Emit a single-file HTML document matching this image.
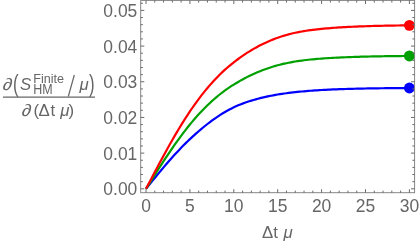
<!DOCTYPE html>
<html><head><meta charset="utf-8"><style>
html,body{margin:0;padding:0;background:#fff;}
body{width:420px;height:243px;overflow:hidden;}
svg{display:block;will-change:transform;}
text{font-family:"Liberation Sans",sans-serif;fill:#666;}
</style></head><body>
<svg width="420" height="243" viewBox="0 0 420 243">
<rect width="420" height="243" fill="#fff"/>
<polyline points="146.00,188.80 148.19,186.08 150.39,183.37 152.59,180.67 154.78,177.98 156.97,175.30 159.17,172.64 161.37,170.01 163.56,167.40 165.75,164.82 167.95,162.27 170.15,159.76 172.34,157.29 174.53,154.86 176.73,152.47 178.93,150.13 181.12,147.83 183.31,145.59 185.51,143.40 187.70,141.25 189.90,139.17 192.09,137.12 194.29,135.12 196.49,133.16 198.68,131.23 200.88,129.36 203.07,127.52 205.26,125.73 207.46,123.99 209.66,122.30 211.85,120.66 214.05,119.07 216.24,117.54 218.44,116.06 220.63,114.64 222.82,113.27 225.02,111.97 227.21,110.72 229.41,109.53 231.60,108.40 233.80,107.33 236.00,106.31 238.19,105.35 240.38,104.45 242.58,103.61 244.77,102.81 246.97,102.05 249.16,101.32 251.36,100.63 253.56,99.97 255.75,99.34 257.94,98.75 260.14,98.18 262.33,97.64 264.53,97.13 266.73,96.64 268.92,96.17 271.12,95.73 273.31,95.32 275.50,94.92 277.70,94.54 279.89,94.18 282.09,93.84 284.28,93.52 286.48,93.22 288.67,92.93 290.87,92.65 293.06,92.39 295.26,92.14 297.45,91.91 299.65,91.69 301.85,91.48 304.04,91.28 306.24,91.09 308.43,90.91 310.62,90.74 312.82,90.58 315.01,90.43 317.21,90.29 319.40,90.15 321.60,90.02 323.79,89.90 325.99,89.78 328.18,89.67 330.38,89.57 332.57,89.47 334.77,89.38 336.96,89.29 339.16,89.21 341.36,89.13 343.55,89.06 345.75,88.98 347.94,88.92 350.13,88.86 352.33,88.80 354.52,88.74 356.72,88.69 358.91,88.64 361.11,88.59 363.30,88.54 365.50,88.50 367.69,88.46 369.89,88.42 372.08,88.38 374.28,88.35 376.48,88.32 378.67,88.29 380.87,88.26 383.06,88.23 385.25,88.21 387.45,88.18 389.64,88.16 391.84,88.14 394.03,88.11 396.23,88.10 398.42,88.08 400.62,88.06 402.81,88.04 405.01,88.03 407.20,88.01 409.40,88.00" fill="none" stroke="#0000ff" stroke-width="2.2" stroke-linejoin="round"/>
<circle cx="409.40" cy="88.00" r="5.45" fill="#0000ff"/>
<polyline points="146.00,188.80 148.19,185.30 150.39,181.80 152.59,178.31 154.78,174.83 156.97,171.38 159.17,167.95 161.37,164.54 163.56,161.17 165.75,157.84 167.95,154.55 170.15,151.30 172.34,148.09 174.53,144.94 176.73,141.85 178.93,138.81 181.12,135.83 183.31,132.91 185.51,130.05 187.70,127.27 189.90,124.54 192.09,121.89 194.29,119.30 196.49,116.79 198.68,114.35 200.88,111.97 203.07,109.67 205.26,107.44 207.46,105.28 209.66,103.19 211.85,101.17 214.05,99.22 216.24,97.33 218.44,95.51 220.63,93.76 222.82,92.07 225.02,90.45 227.21,88.89 229.41,87.39 231.60,85.95 233.80,84.56 236.00,83.22 238.19,81.93 240.38,80.67 242.58,79.45 244.77,78.28 246.97,77.14 249.16,76.05 251.36,74.99 253.56,73.98 255.75,73.00 257.94,72.06 260.14,71.16 262.33,70.30 264.53,69.48 266.73,68.70 268.92,67.95 271.12,67.24 273.31,66.56 275.50,65.92 277.70,65.31 279.89,64.74 282.09,64.19 284.28,63.68 286.48,63.20 288.67,62.74 290.87,62.31 293.06,61.91 295.26,61.54 297.45,61.19 299.65,60.86 301.85,60.55 304.04,60.27 306.24,60.00 308.43,59.76 310.62,59.53 312.82,59.32 315.01,59.12 317.21,58.93 319.40,58.75 321.60,58.58 323.79,58.43 325.99,58.27 328.18,58.13 330.38,58.00 332.57,57.87 334.77,57.75 336.96,57.64 339.16,57.53 341.36,57.42 343.55,57.33 345.75,57.24 347.94,57.15 350.13,57.07 352.33,56.99 354.52,56.92 356.72,56.85 358.91,56.78 361.11,56.72 363.30,56.66 365.50,56.61 367.69,56.55 369.89,56.50 372.08,56.46 374.28,56.41 376.48,56.37 378.67,56.33 380.87,56.29 383.06,56.26 385.25,56.22 387.45,56.19 389.64,56.16 391.84,56.13 394.03,56.11 396.23,56.08 398.42,56.06 400.62,56.04 402.81,56.01 405.01,55.99 407.20,55.97 409.40,55.96" fill="none" stroke="#00a000" stroke-width="2.2" stroke-linejoin="round"/>
<circle cx="409.40" cy="55.96" r="5.45" fill="#00a000"/>
<polyline points="146.00,188.80 148.19,184.60 150.39,180.41 152.59,176.23 154.78,172.06 156.97,167.92 159.17,163.80 161.37,159.72 163.56,155.67 165.75,151.67 167.95,147.71 170.15,143.80 172.34,139.95 174.53,136.15 176.73,132.42 178.93,128.75 181.12,125.15 183.31,121.62 185.51,118.16 187.70,114.78 189.90,111.48 192.09,108.25 194.29,105.11 196.49,102.04 198.68,99.06 200.88,96.16 203.07,93.35 205.26,90.61 207.46,87.96 209.66,85.39 211.85,82.91 214.05,80.50 216.24,78.18 218.44,75.93 220.63,73.76 222.82,71.67 225.02,69.65 227.21,67.71 229.41,65.84 231.60,64.03 233.80,62.30 236.00,60.63 238.19,59.00 240.38,57.42 242.58,55.88 244.77,54.39 246.97,52.95 249.16,51.56 251.36,50.21 253.56,48.92 255.75,47.67 257.94,46.46 260.14,45.31 262.33,44.20 264.53,43.14 266.73,42.13 268.92,41.16 271.12,40.24 273.31,39.36 275.50,38.52 277.70,37.73 279.89,36.97 282.09,36.26 284.28,35.59 286.48,34.96 288.67,34.36 290.87,33.80 293.06,33.27 295.26,32.78 297.45,32.31 299.65,31.88 301.85,31.48 304.04,31.10 306.24,30.75 308.43,30.43 310.62,30.13 312.82,29.85 315.01,29.58 317.21,29.34 319.40,29.10 321.60,28.88 323.79,28.67 325.99,28.47 328.18,28.28 330.38,28.10 332.57,27.93 334.77,27.77 336.96,27.62 339.16,27.47 341.36,27.33 343.55,27.20 345.75,27.08 347.94,26.96 350.13,26.85 352.33,26.75 354.52,26.65 356.72,26.56 358.91,26.47 361.11,26.38 363.30,26.30 365.50,26.23 367.69,26.16 369.89,26.09 372.08,26.02 374.28,25.96 376.48,25.91 378.67,25.85 380.87,25.80 383.06,25.75 385.25,25.71 387.45,25.66 389.64,25.62 391.84,25.58 394.03,25.54 396.23,25.51 398.42,25.48 400.62,25.44 402.81,25.41 405.01,25.39 407.20,25.36 409.40,25.33" fill="none" stroke="#ff0000" stroke-width="2.2" stroke-linejoin="round"/>
<circle cx="409.40" cy="25.33" r="5.45" fill="#ff0000"/>
<rect x="140.7" y="0.4" width="273.9" height="192.3" fill="none" stroke="#808080" stroke-width="0.95"/>
<path d="M146.00 192.8v-3.6M146.00 0.4v3.6M154.78 192.8v-2.2M154.78 0.4v2.2M163.56 192.8v-2.2M163.56 0.4v2.2M172.34 192.8v-2.2M172.34 0.4v2.2M181.12 192.8v-2.2M181.12 0.4v2.2M189.90 192.8v-3.6M189.90 0.4v3.6M198.68 192.8v-2.2M198.68 0.4v2.2M207.46 192.8v-2.2M207.46 0.4v2.2M216.24 192.8v-2.2M216.24 0.4v2.2M225.02 192.8v-2.2M225.02 0.4v2.2M233.80 192.8v-3.6M233.80 0.4v3.6M242.58 192.8v-2.2M242.58 0.4v2.2M251.36 192.8v-2.2M251.36 0.4v2.2M260.14 192.8v-2.2M260.14 0.4v2.2M268.92 192.8v-2.2M268.92 0.4v2.2M277.70 192.8v-3.6M277.70 0.4v3.6M286.48 192.8v-2.2M286.48 0.4v2.2M295.26 192.8v-2.2M295.26 0.4v2.2M304.04 192.8v-2.2M304.04 0.4v2.2M312.82 192.8v-2.2M312.82 0.4v2.2M321.60 192.8v-3.6M321.60 0.4v3.6M330.38 192.8v-2.2M330.38 0.4v2.2M339.16 192.8v-2.2M339.16 0.4v2.2M347.94 192.8v-2.2M347.94 0.4v2.2M356.72 192.8v-2.2M356.72 0.4v2.2M365.50 192.8v-3.6M365.50 0.4v3.6M374.28 192.8v-2.2M374.28 0.4v2.2M383.06 192.8v-2.2M383.06 0.4v2.2M391.84 192.8v-2.2M391.84 0.4v2.2M400.62 192.8v-2.2M400.62 0.4v2.2M409.40 192.8v-3.6M409.40 0.4v3.6M140.7 188.80h3.6M414.6 188.80h-3.6M140.7 181.66h2.2M414.6 181.66h-2.2M140.7 174.53h2.2M414.6 174.53h-2.2M140.7 167.39h2.2M414.6 167.39h-2.2M140.7 160.26h2.2M414.6 160.26h-2.2M140.7 153.12h3.6M414.6 153.12h-3.6M140.7 145.98h2.2M414.6 145.98h-2.2M140.7 138.85h2.2M414.6 138.85h-2.2M140.7 131.71h2.2M414.6 131.71h-2.2M140.7 124.58h2.2M414.6 124.58h-2.2M140.7 117.44h3.6M414.6 117.44h-3.6M140.7 110.30h2.2M414.6 110.30h-2.2M140.7 103.17h2.2M414.6 103.17h-2.2M140.7 96.03h2.2M414.6 96.03h-2.2M140.7 88.90h2.2M414.6 88.90h-2.2M140.7 81.76h3.6M414.6 81.76h-3.6M140.7 74.62h2.2M414.6 74.62h-2.2M140.7 67.49h2.2M414.6 67.49h-2.2M140.7 60.35h2.2M414.6 60.35h-2.2M140.7 53.22h2.2M414.6 53.22h-2.2M140.7 46.08h3.6M414.6 46.08h-3.6M140.7 38.94h2.2M414.6 38.94h-2.2M140.7 31.81h2.2M414.6 31.81h-2.2M140.7 24.67h2.2M414.6 24.67h-2.2M140.7 17.54h2.2M414.6 17.54h-2.2M140.7 10.40h3.6M414.6 10.40h-3.6M140.7 3.26h2.2M414.6 3.26h-2.2" stroke="#6a6a6a" stroke-width="1" fill="none"/>
<text transform="translate(146.0 212.2) scale(1.015 1.06)" font-size="17.2" text-anchor="middle">0</text>
<text transform="translate(189.9 212.2) scale(1.015 1.06)" font-size="17.2" text-anchor="middle">5</text>
<text transform="translate(233.8 212.2) scale(1.015 1.06)" font-size="17.2" text-anchor="middle">10</text>
<text transform="translate(277.7 212.2) scale(1.015 1.06)" font-size="17.2" text-anchor="middle">15</text>
<text transform="translate(321.6 212.2) scale(1.015 1.06)" font-size="17.2" text-anchor="middle">20</text>
<text transform="translate(365.5 212.2) scale(1.015 1.06)" font-size="17.2" text-anchor="middle">25</text>
<text transform="translate(409.4 212.2) scale(1.015 1.06)" font-size="17.2" text-anchor="middle">30</text>
<text transform="translate(137.3 195.2) scale(1.015 1.06)" font-size="17.2" text-anchor="end">0.00</text>
<text transform="translate(137.3 159.5) scale(1.015 1.06)" font-size="17.2" text-anchor="end">0.01</text>
<text transform="translate(137.3 123.8) scale(1.015 1.06)" font-size="17.2" text-anchor="end">0.02</text>
<text transform="translate(137.3 88.2) scale(1.015 1.06)" font-size="17.2" text-anchor="end">0.03</text>
<text transform="translate(137.3 52.5) scale(1.015 1.06)" font-size="17.2" text-anchor="end">0.04</text>
<text transform="translate(137.3 16.8) scale(1.015 1.06)" font-size="17.2" text-anchor="end">0.05</text>
<text x="262" y="238" font-size="16.8">Δt</text>
<text x="283.6" y="238" font-size="16.8" font-style="italic">μ</text>
<path d="M3 97.2H95" stroke="#666" stroke-width="1.2"/>
<text transform="translate(2.3 90.4) skewX(-8) scale(1.12 1)" font-size="16.8">∂</text>
<text transform="translate(13.10 91.70) scale(1 1.370)" font-size="16.80">(</text>
<text x="20.00" y="90.40" font-size="16.80" font-style="italic">S</text>
<text transform="translate(33.20 83.10) scale(1 1.080)" font-size="12.60">Finite</text>
<text transform="translate(33.20 93.90) scale(1 1.100)" font-size="12.50">HM</text>
<path d="M68.3 96.5L74.3 75" stroke="#666" stroke-width="1.2" fill="none"/>
<text x="79.50" y="90.40" font-size="16.80" font-style="italic">μ</text>
<text transform="translate(89.00 91.70) scale(1 1.370)" font-size="16.80">)</text>
<text transform="translate(21.2 116) skewX(-8) scale(1.12 1)" font-size="16.8">∂</text>
<text x="33.40" y="116.00" font-size="16.80">(</text>
<text x="38.60" y="116.00" font-size="16.80">Δ</text>
<text x="50.50" y="116.00" font-size="16.80">t</text>
<text x="60.20" y="116.00" font-size="16.80" font-style="italic">μ</text>
<text x="68.60" y="116.00" font-size="16.80">)</text>
</svg></body></html>
